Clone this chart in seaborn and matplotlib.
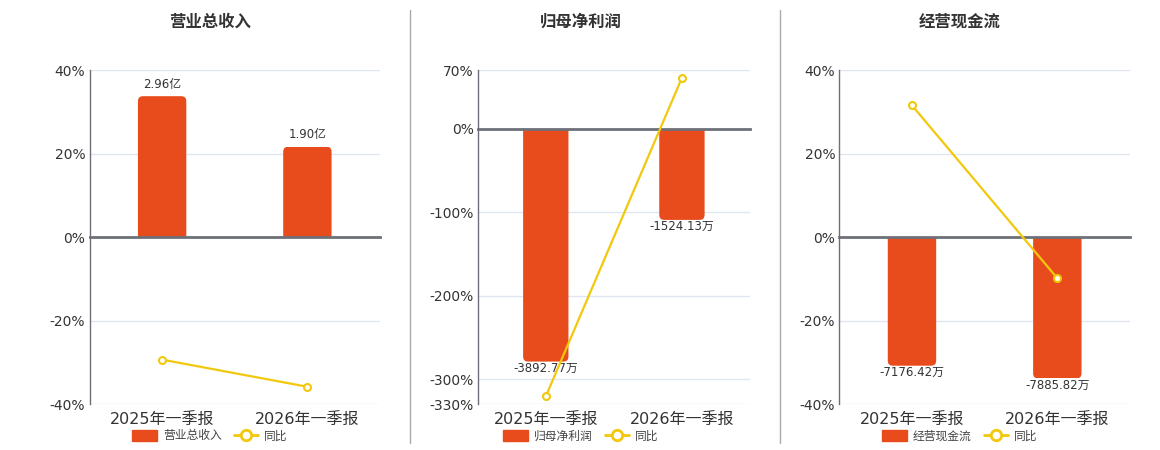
import matplotlib
matplotlib.use("Agg")
import matplotlib.pyplot as plt
import matplotlib.patches as mpatches
from matplotlib.lines import Line2D
import numpy as np
import pandas as pd
import seaborn as sns

# data
periods = ["2025年一季报", "2026年一季报"]

revenue = [2.96, 1.90]            # 亿
revenue_yoy = [-29.3, -35.8]      # %
profit = [-3892.77, -1524.13]     # 万
profit_yoy = [-320.6, 61.0]       # %
cashflow = [-7176.42, -7885.82]   # 万
cashflow_yoy = [31.6, -9.8]       # %

titles = ["营业总收入", "归母净利润", "经营现金流"]
units = ["亿", "万", "万"]
pct_ticks = [[-40, -20, 0, 20, 40],
             [-330, -300, -200, -100, 0, 70],
             [-40, -20, 0, 20, 40]]

BAR = "#e84c1d"
YELLOW = "#f2c80c"
AXIS = "#6e7079"
GRID = "#e0e6f1"
TEXT = "#333333"

sns.set_style("white")
plt.rcParams["font.family"] = ["DejaVu Sans", "Noto Sans CJK SC"]
plt.rcParams["axes.unicode_minus"] = False

W, H = 1160, 450
fig = plt.figure(figsize=(W / 100, H / 100), dpi=100)

# axes boxes in pixels: left, right, top, bottom
boxes = [(89.5, 380, 70.3, 404.3),
         (477.7, 750, 70.3, 404.3),
         (839.3, 1130, 70.3, 404.3)]
centers = [210, 581, 960]


def draw_panel(box, xc, title, unit, values, yoy, ticks):
    l, r, t, b = box
    ax = fig.add_axes([l / W, 1 - b / H, (r - l) / W, (b - t) / H])
    df = pd.DataFrame({"period": periods, "value": values, "yoy": yoy})

    sns.barplot(data=df, x="period", y="value", ax=ax, color=BAR,
                saturation=1, width=0.333)
    lo, hi = ticks[0], ticks[-1]
    s = max(abs(v) for v in values) / (0.845 * max(abs(lo), abs(hi)))
    ax.set_ylim(lo * s, hi * s)
    ax.set_xlim(-0.5, 1.5)
    ax.set_yticks([tk * s for tk in ticks])
    ax.tick_params(axis="y", labelleft=False, length=0)
    ax.yaxis.grid(True, color=GRID, lw=1)
    ax.xaxis.grid(False)
    ax.set_axisbelow(True)
    ax.set_xlabel("")
    ax.set_ylabel("")
    for sp in ["top", "right", "left"]:
        ax.spines[sp].set_visible(False)
    ax.spines["bottom"].set_position(("data", 0))
    ax.spines["bottom"].set_color(AXIS)
    ax.spines["bottom"].set_linewidth(2)
    ax.spines["bottom"].set_zorder(3)
    ax.set_xticks([-0.5, 0.5, 1.5], minor=True)
    ax.tick_params(axis="x", which="major", length=0, labelbottom=False)
    ax.tick_params(axis="x", which="minor", length=5, width=1,
                   color=AXIS, direction="out")

    labels = [f"{v:.2f}{unit}" for v in values]
    pad = 4 if values[0] > 0 else 0.3
    ax.bar_label(ax.containers[0], labels=labels, padding=pad,
                 fontsize=8.5, color=TEXT)

    # rounded bar ends (only the outer end), clipped to the bar itself
    px_x = (r - l) / 2.0
    px_y = (b - t) / ((hi - lo) * s)
    rad = 5 / px_x
    ext = 12 / px_y
    for p in list(ax.patches):
        x, y, w, h = p.get_x(), p.get_y(), p.get_width(), p.get_height()
        y0, hh = min(y, y + h), abs(h)
        if h > 0:
            fy, fh = y0 - ext, hh + ext
        else:
            fy, fh = y0, hh + ext
        fb = mpatches.FancyBboxPatch((x, fy), w, fh,
                                     boxstyle=f"round,pad=0,rounding_size={rad}",
                                     mutation_aspect=px_x / px_y,
                                     fc=BAR, ec="none", zorder=2)
        ax.add_patch(fb)
        clip = mpatches.Rectangle((x - w, y0), 3 * w, hh, transform=ax.transData)
        fb.set_clip_path(clip)
        p.remove()

    tw = ax.twinx()
    sns.lineplot(x=df.index, y=df["yoy"], ax=tw, color=YELLOW, lw=1.6,
                 marker="o", markersize=5, markerfacecolor="white",
                 markeredgecolor=YELLOW, markeredgewidth=1.5)
    tw.set_ylim(lo, hi)
    tw.set_yticks(ticks)
    tw.set_yticklabels([f"{tk}%" for tk in ticks])
    tw.yaxis.tick_left()
    tw.tick_params(axis="y", length=0, pad=3, labelsize=10, labelcolor=TEXT)
    tw.set_xlabel("")
    tw.set_ylabel("")
    for sp in ["top", "right", "bottom"]:
        tw.spines[sp].set_visible(False)
    tw.spines["left"].set_color(AXIS)
    tw.spines["left"].set_linewidth(1)
    tw.xaxis.set_visible(True)
    tw.set_xticks([0, 1])
    tw.set_xticklabels(periods)
    tw.tick_params(axis="x", which="major", length=0, pad=6,
                   labelsize=11.5, labelcolor=TEXT, labelbottom=True)
    tw.tick_params(axis="x", which="minor", length=0)
    tw.set_xlim(-0.5, 1.5)

    fig.text(xc / W, 1 - 22 / H, title, ha="center", va="center",
             fontsize=11.8, fontweight="bold", color=TEXT)

    handles = [mpatches.Patch(color=BAR),
               Line2D([], [], color=YELLOW, lw=2, marker="o", markersize=7.5,
                      markerfacecolor="white", markeredgecolor=YELLOW,
                      markeredgewidth=2)]
    fig.legend(handles, [title, "同比"], loc="center",
               bbox_to_anchor=(xc / W, 1 - 436 / H), ncol=2, frameon=False,
               fontsize=8.5, handlelength=2.1, handleheight=1.1,
               handletextpad=0.5, columnspacing=1.0, labelcolor="#444444")


draw_panel(boxes[0], centers[0], titles[0], units[0], revenue, revenue_yoy, pct_ticks[0])
draw_panel(boxes[1], centers[1], titles[1], units[1], profit, profit_yoy, pct_ticks[1])
draw_panel(boxes[2], centers[2], titles[2], units[2], cashflow, cashflow_yoy, pct_ticks[2])

for xs in [410, 780]:
    fig.add_artist(Line2D([xs / W, xs / W], [1 - 443 / H, 1 - 10 / H],
                          transform=fig.transFigure, color="#aaaaaa", lw=1))

fig.savefig("out.png", dpi=100)
